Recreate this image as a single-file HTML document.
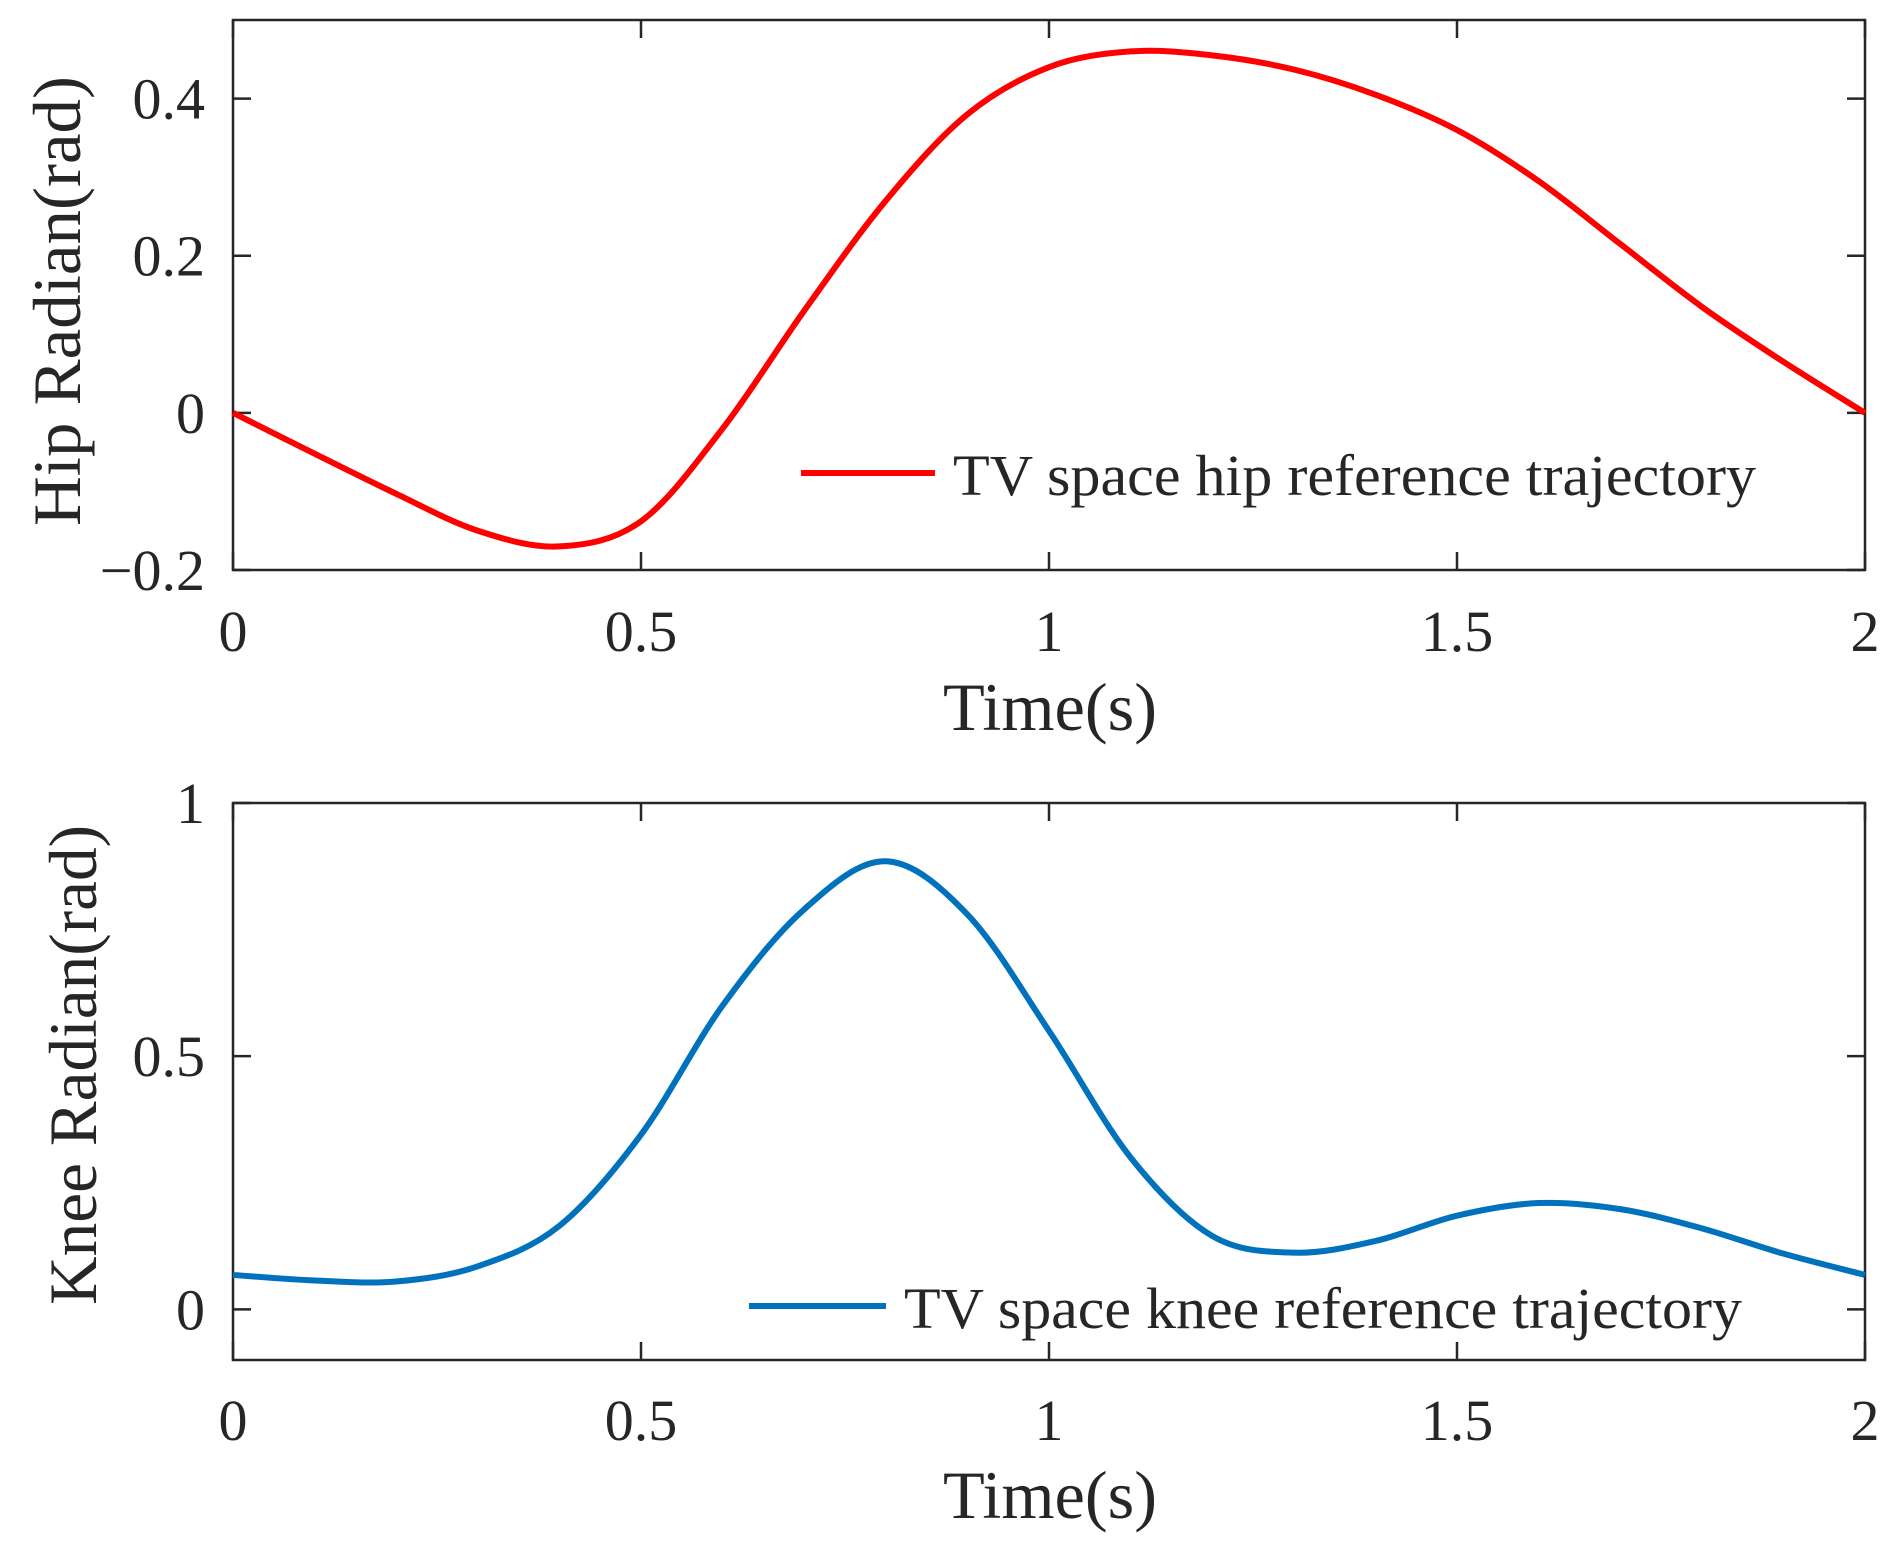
<!DOCTYPE html>
<html><head><meta charset="utf-8"><style>
html,body{margin:0;padding:0;background:#fff;}
svg{display:block;font-family:"Liberation Serif",serif;}
</style></head><body>
<svg id="chart" width="1903" height="1558" viewBox="0 0 1903 1558"></svg>
<script>
const times = [0,0.1,0.2,0.3,0.4,0.5,0.6,0.7,0.8,0.9,1.0,1.1,1.2,1.3,1.4,1.5,1.6,1.7,1.8,1.9,2.0];
const hipValues = [0,-0.052,-0.103,-0.15,-0.17,-0.138,-0.02,0.13,0.27,0.38,0.44,0.46,0.455,0.437,0.405,0.36,0.295,0.215,0.135,0.065,0];
const kneeValues = [0.068,0.057,0.055,0.085,0.165,0.345,0.6,0.79,0.885,0.78,0.55,0.3,0.145,0.112,0.135,0.185,0.21,0.198,0.16,0.11,0.068];
const xTicks = [0,0.5,1,1.5,2];
const xTickLabels = ["0","0.5","1","1.5","2"];
const hipYTicks = [-0.2,0,0.2,0.4];
const hipYTickLabels = ["\u22120.2","0","0.2","0.4"];
const kneeYTicks = [0,0.5,1];
const kneeYTickLabels = ["0","0.5","1"];

const NS="http://www.w3.org/2000/svg";
const svg=document.getElementById('chart');
function mk(tag,attrs,parent){const e=document.createElementNS(NS,tag);for(const k in attrs)e.setAttribute(k,attrs[k]);(parent||svg).appendChild(e);return e;}

function panel(cfg){
  const g=mk('g',{});
  
  
  const L=233,R=1865,T=cfg.top,B=cfg.bottom;
  const sx=v=>L+(v-0)/(2-0)*(R-L);
  const sy=v=>B-(v-cfg.ymin)/(cfg.ymax-cfg.ymin)*(B-T);
  const box=mk('rect',{x:L,y:T,width:R-L,height:B-T,fill:'none',stroke:'#262626','stroke-width':2.5},g);
  
  
  xTicks.forEach((t,i)=>{
    const x=sx(t);
    mk('line',{x1:x,y1:B,x2:x,y2:B-18,stroke:'#262626','stroke-width':2.5},g);
    mk('line',{x1:x,y1:T,x2:x,y2:T+18,stroke:'#262626','stroke-width':2.5},g);
    const tx=mk('text',{x:x,y:cfg.xtickY,'font-size':58,'text-anchor':'middle',fill:'#262626'},g);
    tx.textContent=xTickLabels[i];
    
    
  });
  cfg.yticks.forEach((t,i)=>{
    const y=sy(t);
    mk('line',{x1:L,y1:y,x2:L+18,y2:y,stroke:'#262626','stroke-width':2.5},g);
    mk('line',{x1:R,y1:y,x2:R-18,y2:y,stroke:'#262626','stroke-width':2.5},g);
    const tx=mk('text',{x:205,y:y+20,'font-size':58,'text-anchor':'end',fill:'#262626'},g);
    tx.textContent=cfg.ylabels[i];
    
    
  });
  const pts=times.map((t,i)=>[sx(t),sy(cfg.values[i])]);
  let d='M'+pts[0][0]+','+pts[0][1];
  for(let i=0;i<pts.length-1;i++){
    const p0=pts[Math.max(0,i-1)],p1=pts[i],p2=pts[i+1],p3=pts[Math.min(pts.length-1,i+2)];
    const c1=[p1[0]+(p2[0]-p0[0])/6,p1[1]+(p2[1]-p0[1])/6];
    const c2=[p2[0]-(p3[0]-p1[0])/6,p2[1]-(p3[1]-p1[1])/6];
    d+=' C'+c1[0]+','+c1[1]+' '+c2[0]+','+c2[1]+' '+p2[0]+','+p2[1];
  }
  const line=mk('path',{d:d,fill:'none',stroke:cfg.color,'stroke-width':6},g);
  
  
  const xl=mk('text',{x:1050,y:cfg.xlabelY,'font-size':68,'text-anchor':'middle',fill:'#262626',textLength:214,lengthAdjust:'spacingAndGlyphs'},g);
  xl.textContent='Time(s)';
  
  
  const yl=mk('text',{x:0,y:0,'font-size':68,'text-anchor':'middle',fill:'#262626',textLength:cfg.ylabelLen,lengthAdjust:'spacingAndGlyphs',transform:`translate(${cfg.ylabelX},${cfg.ylabelCY}) rotate(-90)`},g);
  yl.textContent=cfg.ylabel;
  
  
  const lg=mk('g',{},g);
  
  
  mk('line',{x1:cfg.leg[0],y1:cfg.leg[2],x2:cfg.leg[1],y2:cfg.leg[2],stroke:cfg.color,'stroke-width':6},lg);
  const lt=mk('text',{x:cfg.leg[3],y:cfg.leg[2]+22,'font-size':58,fill:'#262626',textLength:cfg.leg[4],lengthAdjust:'spacingAndGlyphs'},lg);
  lt.textContent=cfg.legText;
  
  
}
panel({name:'hip-panel',top:20,bottom:570,ymin:-0.2,ymax:0.5,values:hipValues,color:'#ff0000',seriesName:'hip-trajectory-line',
  yticks:hipYTicks,ylabels:hipYTickLabels,xtickY:651,xlabelY:730,ylabel:'Hip Radian(rad)',ylabelX:80,ylabelCY:301,ylabelLen:450,
  leg:[801,935,473,953,803],legText:'TV space hip reference trajectory'});
panel({name:'knee-panel',top:803,bottom:1360,ymin:-0.1,ymax:1,values:kneeValues,color:'#0072bd',seriesName:'knee-trajectory-line',
  yticks:kneeYTicks,ylabels:kneeYTickLabels,xtickY:1440,xlabelY:1518,ylabel:'Knee Radian(rad)',ylabelX:96,ylabelCY:1065,ylabelLen:480,
  leg:[749,886,1306,904,838],legText:'TV space knee reference trajectory'});
</script>
</body></html>
